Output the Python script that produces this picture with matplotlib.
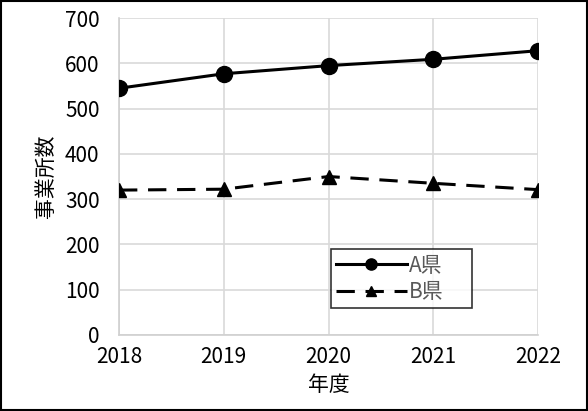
import matplotlib.pyplot as plt
from matplotlib.patches import Rectangle

plt.rcParams['font.family'] = ['Noto Sans CJK JP', 'DejaVu Sans']

years = [2018, 2019, 2020, 2021, 2022]
pref_a = [545, 577, 595, 609, 628]
pref_b = [320, 322, 350, 335, 321]
y_ticks = [0, 100, 200, 300, 400, 500, 600, 700]

fig = plt.figure(figsize=(5.88, 4.11), dpi=100)
ax = fig.add_axes([0.2024, 0.185, 0.713, 0.771])

ax.plot(years, pref_a, color='black', lw=2.2, marker='o', ms=11.5, label='A県', zorder=3)
ax.plot(years, pref_b, color='black', lw=2.2, ls=(0, (6, 3.5)), marker='^', ms=10.5,
        label='B県', zorder=3)

ax.set_xlim(2018, 2022)
ax.set_ylim(0, 700)
ax.set_xticks(years)
ax.set_yticks(y_ticks)
ax.grid(True, color='#d9d9d9', lw=1.2)
ax.set_axisbelow(True)
for side in ['top', 'right']:
    ax.spines[side].set_visible(False)
for side in ['left', 'bottom']:
    ax.spines[side].set_color('#d0d0d0')
    ax.spines[side].set_linewidth(1.2)
ax.tick_params(length=0, labelsize=15, colors='black')
ax.tick_params(axis='x', pad=8)
ax.tick_params(axis='y', pad=14)
ax.set_ylabel('事業所数', fontsize=15, labelpad=6)
ax.set_xlabel('年度', fontsize=15, labelpad=4)

leg = ax.legend(loc='lower left', bbox_to_anchor=(0.505, 0.085, 0.337, 0.23), mode='expand',
                fontsize=15, frameon=True, fancybox=False, edgecolor='black',
                handlelength=3.4, borderpad=0.25, labelspacing=0.2, handletextpad=0.1,
                borderaxespad=0, markerscale=0.7)
leg.get_frame().set_linewidth(1.2)
for t in leg.get_texts():
    t.set_color('#595959')

fig.patches.append(Rectangle((0.002, 0.002), 0.996, 0.996, transform=fig.transFigure,
                             fill=False, edgecolor='black', lw=1.5))

fig.savefig('out.png', dpi=100)
